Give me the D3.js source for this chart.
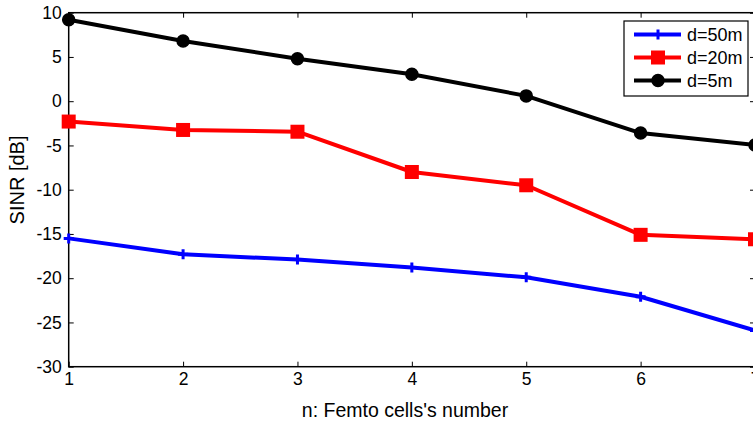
<!DOCTYPE html>
<html>
<head>
<meta charset="utf-8">
<script src="https://cdn.jsdelivr.net/npm/d3@7"></script>
<style>
  body { margin: 0; background: #fff; }
  svg { display: block; font-family: "Liberation Sans", Arial, sans-serif; }
</style>
</head>
<body>
<script>
"use strict";

var cells = [1, 2, 3, 4, 5, 6, 7];
var sinr_50m = [-15.5, -17.3, -17.9, -18.8, -19.9, -22.1, -25.9];
var sinr_20m = [-2.3, -3.25, -3.45, -8.0, -9.5, -15.1, -15.6];
var sinr_5m = [9.2, 6.8, 4.8, 3.05, 0.6, -3.6, -4.95];
var y_ticks = [-30, -25, -20, -15, -10, -5, 0, 5, 10];

var series = [
    { "name": "d=50m", "color": "#0000ff", "marker": "plus", "values": sinr_50m },
    { "name": "d=20m", "color": "#ff0000", "marker": "square", "values": sinr_20m },
    { "name": "d=5m", "color": "#000000", "marker": "circle", "values": sinr_5m }
];

function draw_chart() {
    var width = 753;
    var height = 422;
    var plot_left = 68.7, plot_right = 755, plot_top = 12.7, plot_bottom = 366.7;

    var svg = d3.select("body")
        .append("svg")
        .attr("width", width)
        .attr("height", height);

    var x = d3.scaleLinear().domain([1, 7]).range([plot_left, plot_right]);
    var y = d3.scaleLinear().domain([-30, 10]).range([plot_bottom, plot_top]);

    // plain hyphen like matlab, not the unicode minus d3 uses
    var plain = function(d) { return String(d); };

    // frame
    svg.append("rect")
        .attr("x", plot_left).attr("y", plot_top)
        .attr("width", plot_right - plot_left).attr("height", plot_bottom - plot_top)
        .attr("fill", "none").attr("stroke", "#000").attr("stroke-width", 1.5);

    // axes (matlab style, ticks inside)
    function style_axis(g) {
        g.attr("font-size", null).attr("font-family", null);
        g.select(".domain").remove();
        g.selectAll(".tick line").attr("stroke", "#000").attr("stroke-width", 1);
        g.selectAll(".tick text").attr("fill", "#000").style("font-size", "17.5px");
    }

    svg.append("g")
        .attr("transform", "translate(0," + plot_bottom + ")")
        .call(d3.axisBottom(x).tickValues(cells).tickFormat(plain)
            .tickSizeInner(-5).tickPadding(6))
        .call(style_axis);

    svg.append("g")
        .attr("transform", "translate(0," + plot_top + ")")
        .call(d3.axisTop(x).tickValues(cells).tickSizeInner(-5).tickFormat(""))
        .call(style_axis);

    svg.append("g")
        .attr("transform", "translate(" + plot_left + ",0)")
        .call(d3.axisLeft(y).tickValues(y_ticks).tickFormat(plain)
            .tickSizeInner(-5).tickPadding(7))
        .call(style_axis);

    svg.append("g")
        .attr("transform", "translate(" + plot_right + ",0)")
        .call(d3.axisRight(y).tickValues(y_ticks).tickSizeInner(-5).tickFormat(""))
        .call(style_axis);

    // labels
    svg.append("text")
        .attr("x", 405).attr("y", 417)
        .attr("text-anchor", "middle")
        .style("font-size", "19.5px")
        .text("n: Femto cells's number");

    svg.append("text")
        .attr("transform", "translate(24,180)rotate(-90)")
        .attr("text-anchor", "middle")
        .style("font-size", "20px")
        .text("SINR [dB]");

    // markers
    function draw_marker(g, type, color, cx, cy) {
        if (type === "circle") {
            g.append("circle").attr("cx", cx).attr("cy", cy).attr("r", 6)
                .attr("fill", color).attr("stroke", color).attr("stroke-width", 1.5);
        } else if (type === "square") {
            g.append("rect").attr("x", cx - 6).attr("y", cy - 6)
                .attr("width", 12).attr("height", 12)
                .attr("fill", color).attr("stroke", color).attr("stroke-width", 2);
        } else {
            g.append("path")
                .attr("d", "M" + (cx - 5) + "," + cy + "H" + (cx + 5) +
                    "M" + cx + "," + (cy - 5) + "V" + (cy + 5))
                .attr("stroke", color).attr("stroke-width", 3);
        }
    }

    var line = d3.line()
        .x(function(d, i) { return x(cells[i]); })
        .y(function(d) { return y(d); });

    series.forEach(function(s) {
        var g = svg.append("g");
        g.append("path")
            .attr("d", line(s.values))
            .attr("fill", "none")
            .attr("stroke", s.color)
            .attr("stroke-width", 4)
            .attr("stroke-linejoin", "round");
        s.values.forEach(function(v, i) {
            draw_marker(g, s.marker, s.color, x(cells[i]), y(v));
        });
    });

    // legend
    var legend = svg.append("g").attr("transform", "translate(624,21)");
    legend.append("rect")
        .attr("width", 124).attr("height", 75)
        .attr("fill", "#fff").attr("stroke", "#000").attr("stroke-width", 1.2);

    series.forEach(function(s, i) {
        var ry = 13.5 + i * 23;
        legend.append("line")
            .attr("x1", 10).attr("x2", 57)
            .attr("y1", ry).attr("y2", ry)
            .attr("stroke", s.color).attr("stroke-width", 4);
        draw_marker(legend, s.marker, s.color, 34, ry);
        legend.append("text")
            .attr("x", 63).attr("y", ry + 6.5)
            .style("font-size", "18px")
            .text(s.name);
    });
}

draw_chart();
</script>
</body>
</html>
